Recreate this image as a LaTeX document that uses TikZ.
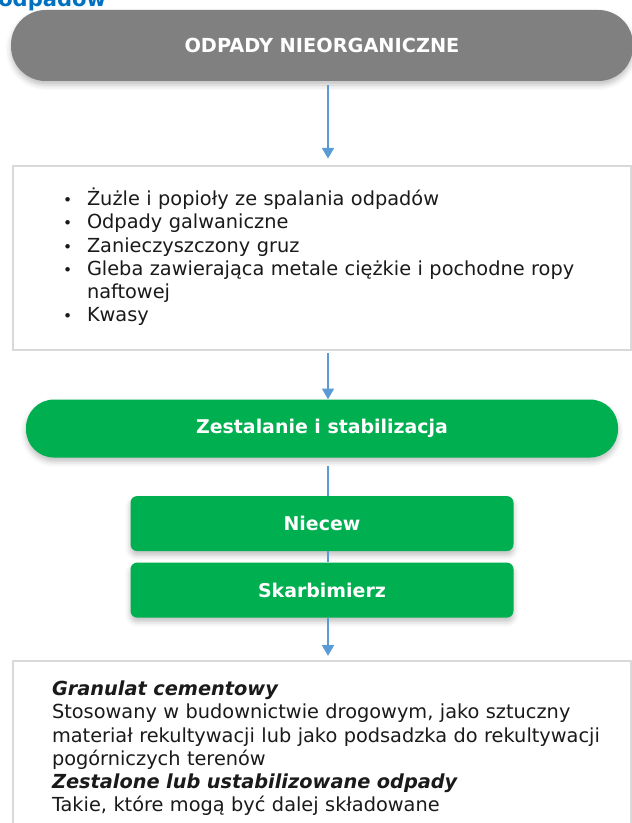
\documentclass[tikz,border=0pt]{standalone}
\usepackage{fontspec}
\setmainfont{DejaVu Sans}
\usetikzlibrary{arrows.meta, positioning, shadows.blur}
\definecolor{wastegray}{HTML}{808080}
\definecolor{procgreen}{HTML}{00B050}
\definecolor{flowblue}{HTML}{5B9BD5}
\definecolor{framegray}{HTML}{D9D9D9}
\definecolor{titleblue}{HTML}{0070C0}
\definecolor{bodytext}{HTML}{1A1A1A}
\newcommand{\blt}{\makebox[18pt][l]{\scalebox{0.8}{\textbullet}}}

\begin{document}
\begin{tikzpicture}[
            x=0.75pt, y=0.75pt,
            softshadow/.style={blur shadow={shadow xshift=0pt, shadow yshift=-3pt,
                        shadow blur radius=4pt, shadow opacity=25}},
            headbox/.style={fill=wastegray, rounded corners=26pt, softshadow,
                        minimum width=466.5pt, minimum height=53.25pt, inner sep=0pt,
                        text=white, font=\fontsize{14.5}{17}\selectfont\bfseries},
            procbox/.style={fill=procgreen, rounded corners=21pt, softshadow,
                        minimum width=444pt, minimum height=43.5pt, inner sep=0pt,
                        text=white, font=\fontsize{14.2}{17}\selectfont\bfseries},
            sitebox/.style={fill=procgreen, rounded corners=5pt, softshadow,
                        minimum width=287.25pt, minimum height=41.25pt, inner sep=0pt,
                        text=white, font=\fontsize{14.2}{17}\selectfont\bfseries},
            textbox/.style={draw=framegray, line width=1.5pt, fill=white,
                        text=bodytext, align=left, font=\fontsize{14.5}{17.4}\selectfont},
            arr/.style={-{Triangle[width=9pt,length=8pt]}, line width=1.1pt, color=flowblue},
            lnk/.style={line width=1.1pt, color=flowblue}
          ]
          \useasboundingbox (0,0) rectangle (631,-823);
          \node[anchor=base west, inner sep=0pt, text=titleblue,
                font=\fontsize{15.8}{19}\selectfont\bfseries] (title) at (-2,-7) {odpadów};
          \node[headbox] (head) at (322,-45.5) {ODPADY NIEORGANICZNE};
          \node[textbox, minimum height=138pt, text width=388.5pt, inner xsep=37.5pt]
               (waste) [below=63pt of head]
               {\begin{tabular}{@{}l@{}l@{}}
                \blt & Żużle i popioły ze spalania odpadów\\
                \blt & Odpady galwaniczne\\
                \blt & Zanieczyszczony gruz\\
                \blt & Gleba zawierająca metale ciężkie i pochodne ropy\\
                     & naftowej\\
                \blt & Kwasy
                \end{tabular}};
          \node[procbox] (solid)  [below=36pt of waste]  {Zestalanie i stabilizacja};
          \node[sitebox] (niecew) [below=28.5pt of solid] {Niecew};
          \node[sitebox] (skarb)  [below=8.25pt of niecew] {Skarbimierz};
          \node[textbox, text width=405pt, inner xsep=29.25pt, inner ysep=14pt]
               (product) [below=31.5pt of skarb]
               {\begin{tabular}{@{}l@{}}
                \textbf{\textit{Granulat cementowy}}\\
                Stosowany w budownictwie drogowym, jako sztuczny\\
                materiał rekultywacji lub jako podsadzka do rekultywacji\\
                pogórniczych terenów\\
                \textbf{\textit{Zestalone lub ustabilizowane odpady}}\\
                Takie, które mogą być dalej składowane
                \end{tabular}};
          \draw[arr, shorten <=3pt, shorten >=5pt] ([xshift=4.5pt]head.south) -- ([xshift=4.5pt]waste.north);
          \draw[arr, shorten <=1.5pt] ([xshift=4.5pt]waste.south) -- ([xshift=4.5pt]solid.north);
          \draw[lnk, shorten <=6pt] ([xshift=4.5pt]solid.south) -- ([xshift=4.5pt]niecew.north);
          \draw[lnk] ([xshift=4.5pt]niecew.south) -- ([xshift=4.5pt]skarb.north);
          \draw[arr, shorten >=3pt] ([xshift=4.5pt]skarb.south) -- ([xshift=4.5pt]product.north);
        \end{tikzpicture}
\end{document}
